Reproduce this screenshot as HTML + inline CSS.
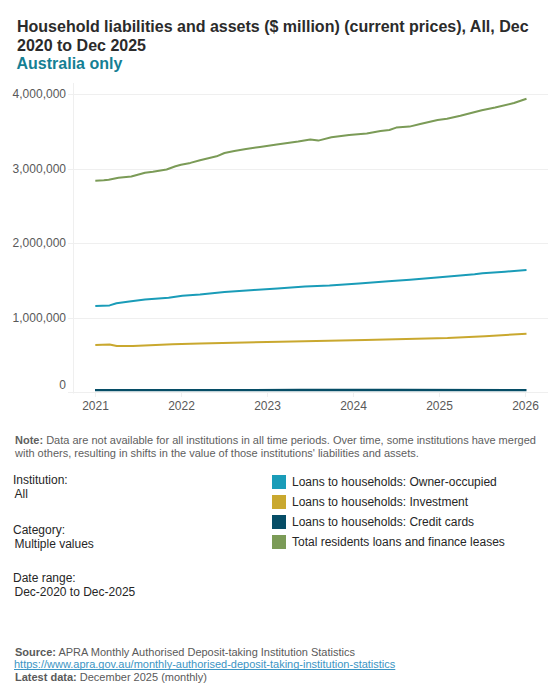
<!DOCTYPE html>
<html><head><meta charset="utf-8">
<style>
html,body{margin:0;padding:0;background:#fff;}
body{width:560px;height:700px;position:relative;overflow:hidden;font-family:"Liberation Sans",sans-serif;}
.abs{position:absolute;white-space:nowrap;}
.title{left:17px;top:17px;font-size:16px;font-weight:bold;color:#2b2b2b;line-height:19px;}
.sub{left:16.5px;top:53.5px;font-size:16px;font-weight:bold;color:#157f94;line-height:19px;}
.yl{font-size:12px;color:#595959;text-align:right;width:60px;left:6px;line-height:14px;}
.xl{font-size:12px;color:#595959;text-align:center;width:40px;line-height:14px;}
.note{left:15px;top:434px;font-size:11px;color:#606060;line-height:12.5px;}
.lab{font-size:12px;color:#262626;line-height:14px;left:13px;}
.leg{font-size:12px;color:#262626;line-height:14px;left:292px;}
.sw{position:absolute;left:272px;width:14px;height:14px;}
.foot{left:15px;top:645.5px;font-size:11px;color:#5a5a5a;line-height:12.6px;}
.foot .lnk{color:#3b95c4;text-decoration:underline;text-decoration-thickness:1px;text-underline-offset:1px;text-decoration-skip-ink:none;margin-left:-1px;}
</style></head><body>
<div class="abs title">Household liabilities and assets ($ million) (current prices), All, Dec<br>2020 to Dec 2025</div>
<div class="abs sub">Australia only</div>
<svg class="abs" style="left:0;top:0" width="560" height="420" viewBox="0 0 560 420">
<g stroke="#efefef" stroke-width="1" fill="none">
<line x1="68" y1="94.5" x2="548" y2="94.5"/>
<line x1="68" y1="169.5" x2="548" y2="169.5"/>
<line x1="68" y1="243.5" x2="548" y2="243.5"/>
<line x1="68" y1="318.5" x2="548" y2="318.5"/>
<line x1="68" y1="392.5" x2="548" y2="392.5"/>
<line x1="73.5" y1="83" x2="73.5" y2="393.5"/>
<line x1="95.5" y1="392" x2="95.5" y2="397"/>
<line x1="181.5" y1="392" x2="181.5" y2="397"/>
<line x1="267.5" y1="392" x2="267.5" y2="397"/>
<line x1="353.5" y1="392" x2="353.5" y2="397"/>
<line x1="439.5" y1="392" x2="439.5" y2="397"/>
<line x1="525.5" y1="392" x2="525.5" y2="397"/>
</g>
<g fill="none" stroke-width="2" stroke-linejoin="round" stroke-linecap="butt">
<polyline stroke="#7b9b57" points="95.3,180.7 103.8,180.3 108.7,179.7 118.5,177.7 131.3,176.5 145.0,172.8 152.9,171.8 166.6,169.5 175.5,166.3 181.0,164.7 190.4,162.9 200.0,160.2 216.6,156.3 224.5,153.0 234.3,151.0 246.0,149.0 260.0,147.0 276.8,144.6 298.2,141.6 310.3,139.4 318.3,140.6 331.4,137.3 349.1,135.0 366.8,133.4 380.5,131.0 389.4,130.0 396.2,127.6 409.5,126.6 420.2,124.0 437.6,120.0 447.0,118.7 460.4,115.8 481.8,110.3 495.2,107.5 514.0,103.0 526.5,98.7"/>
<polyline stroke="#1a9cb8" points="95.3,306.1 109.6,305.4 116.5,303.2 129.3,301.6 145.0,299.5 168.6,297.7 182.3,295.7 200.0,294.4 224.5,292.0 254.0,290.0 277.5,288.5 305.0,286.5 329.5,285.4 359.0,283.4 388.4,281.2 410.0,279.7 439.8,277.3 474.6,274.3 482.5,273.3 505.0,271.7 526.5,270.0"/>
<polyline stroke="#c9a82f" points="95.3,345.0 109.6,344.6 116.8,346.1 132.9,345.9 150.0,345.3 172.5,344.3 200.0,343.4 280.0,341.7 365.0,339.9 447.5,338.1 485.0,336.3 526.5,333.7"/>
<polyline stroke="#064d66" stroke-width="2.3" stroke-linecap="butt" points="95.0,390.2 200.0,390.2 300.0,390.0 400.0,390.0 526.5,390.2"/>
</g>
</svg>
<div class="abs yl" style="top:87px">4,000,000</div>
<div class="abs yl" style="top:162px">3,000,000</div>
<div class="abs yl" style="top:236px">2,000,000</div>
<div class="abs yl" style="top:311px">1,000,000</div>
<div class="abs yl" style="top:378px">0</div>
<div class="abs xl" style="left:75.5px;top:399px">2021</div>
<div class="abs xl" style="left:161.5px;top:399px">2022</div>
<div class="abs xl" style="left:247.5px;top:399px">2023</div>
<div class="abs xl" style="left:333.5px;top:399px">2024</div>
<div class="abs xl" style="left:419.5px;top:399px">2025</div>
<div class="abs xl" style="left:505.5px;top:399px">2026</div>
<div class="abs note"><b>Note:</b> Data are not available for all institutions in all time periods. Over time, some institutions have merged<br>with others, resulting in shifts in the value of those institutions' liabilities and assets.</div>
<div class="abs lab" style="top:473px">Institution:<br><span style="padding-left:1.5px">All</span></div>
<div class="abs lab" style="top:523px">Category:<br><span style="padding-left:1.5px">Multiple values</span></div>
<div class="abs lab" style="top:571px">Date range:<br><span style="padding-left:1.5px">Dec-2020 to Dec-2025</span></div>
<div class="sw" style="top:475px;background:#1a9cb8"></div>
<div class="sw" style="top:495px;background:#c9a82f"></div>
<div class="sw" style="top:515px;background:#064d66"></div>
<div class="sw" style="top:535px;background:#7b9b57"></div>
<div class="abs leg" style="top:475px">Loans to households: Owner-occupied</div>
<div class="abs leg" style="top:495px">Loans to households: Investment</div>
<div class="abs leg" style="top:515px">Loans to households: Credit cards</div>
<div class="abs leg" style="top:535px">Total residents loans and finance leases</div>
<div class="abs foot"><b>Source:</b> APRA Monthly Authorised Deposit-taking Institution Statistics<br><span class="lnk">https://www.apra.gov.au/monthly-authorised-deposit-taking-institution-statistics</span><br><b>Latest data:</b> December 2025 (monthly)</div>
</body></html>
